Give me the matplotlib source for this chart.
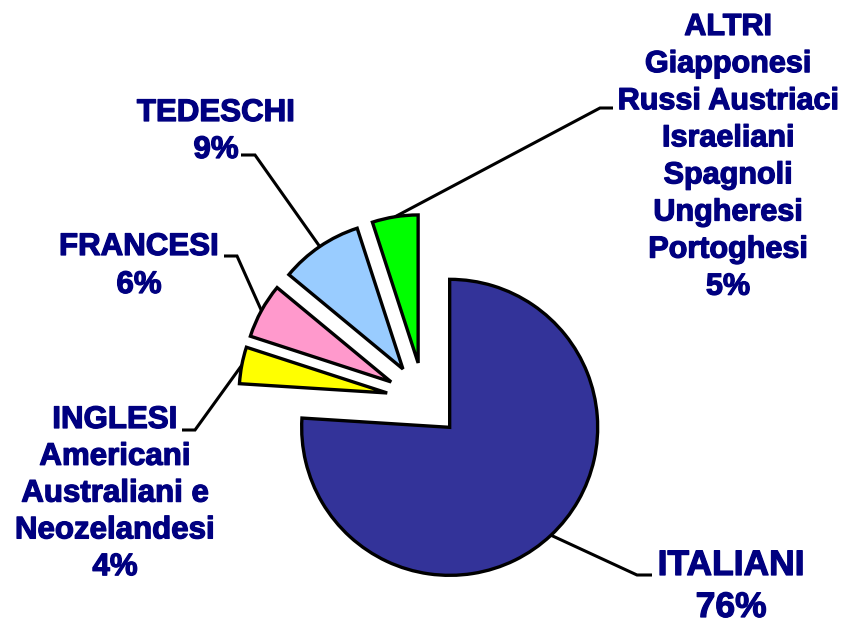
import numpy as np
import matplotlib
matplotlib.use("Agg")
import matplotlib.pyplot as plt
import matplotlib.patheffects as pe

# ---- data ----
categories = ["ITALIANI", "INGLESI", "FRANCESI", "TEDESCHI", "ALTRI"]
values = [76, 4, 6, 9, 5]
label_lines = [
    ["ITALIANI", "76%"],
    ["INGLESI", "Americani", "Australiani e", "Neozelandesi", "4%"],
    ["FRANCESI", "6%"],
    ["TEDESCHI", "9%"],
    ["ALTRI", "Giapponesi", "Russi Austriaci", "Israeliani", "Spagnoli",
     "Ungheresi", "Portoghesi", "5%"],
]
colors = ["#333399", "#FFFF00", "#FF99CC", "#99CCFF", "#00FF00"]

# ---- layout (image pixel coords, y down) ----
W, H = 848, 623
R = 148
CENTER_IMG = (424, 400)
EXPLODE_PX = 37.5
# text: center x, first baseline y, line step, font size
text_layout = [
    (731, 575, 42, 25.5),
    (115, 428, 36.8, 22.5),
    (139, 255, 38, 22.5),
    (216, 121, 37, 22.5),
    (728, 35, 37.1, 22),
]
# leader elbow and stub end
leader_layout = [
    ((637, 575), (652, 575)),
    ((195, 430), (182, 430)),
    ((237, 256), (224, 256)),
    ((255, 155), (241, 155)),
    ((600, 108), (613, 108)),
]

def Y(y):
    return H - y

fig = plt.figure(figsize=(W / 100, H / 100), dpi=100)
ax = fig.add_axes([0, 0, 1, 1])

center = (CENTER_IMG[0], Y(CENTER_IMG[1]))
wedges, _ = ax.pie(values, colors=colors, startangle=90, counterclock=False,
                   radius=R, center=center, explode=[EXPLODE_PX] * len(values),
                   frame=True,
                   wedgeprops=dict(edgecolor="black", linewidth=2.4,
                                   joinstyle="miter"))
# guard: ensure offset is in pixels
for w in wedges:
    cx, cy = w.center
    d = np.hypot(cx - center[0], cy - center[1])
    if d > 0 and abs(d - EXPLODE_PX) > 1:
        ux, uy = (cx - center[0]) / d, (cy - center[1]) / d
        w.set_center((center[0] + EXPLODE_PX * ux, center[1] + EXPLODE_PX * uy))

ax.set_xlim(0, W)
ax.set_ylim(0, H)
ax.set_aspect("equal")
ax.axis("off")

# leader lines
for w, (elbow, end) in zip(wedges, leader_layout):
    mid = np.deg2rad((w.theta1 + w.theta2) / 2)
    cx, cy = w.center
    ax_, ay_ = cx + R * np.cos(mid), cy + R * np.sin(mid)
    ax.plot([ax_, elbow[0], end[0]], [ay_, Y(elbow[1]), Y(end[1])],
            color="black", lw=2.2, solid_capstyle="butt",
            solid_joinstyle="miter", zorder=1)

# labels
for lines, (tx, ty, step, fs) in zip(label_lines, text_layout):
    for i, line in enumerate(lines):
        ax.text(tx, Y(ty + i * step), line, ha="center", va="baseline",
                fontsize=fs, fontweight="bold", color="#000080",
                family=["Liberation Sans", "DejaVu Sans"],
                path_effects=[pe.withStroke(linewidth=0.9, foreground="#000080")])

fig.savefig("out.png", dpi=100)
